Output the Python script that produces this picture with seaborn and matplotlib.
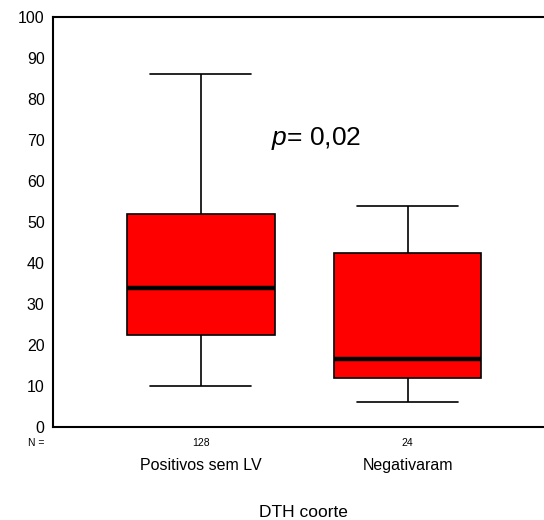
import numpy as np
import pandas as pd
import seaborn as sns
import matplotlib
matplotlib.use("Agg")
import matplotlib.pyplot as plt
from matplotlib.transforms import blended_transform_factory

# ---- data (five-number summaries) ----
groups = ["Positivos sem LV", "Negativaram"]
n_labels = ["128", "24"]
pos_sem_lv = [10, 22.5, 34, 52, 86]      # min, Q1, median, Q3, max
negativaram = [6, 12, 16.5, 42.5, 54]
yticks = list(range(0, 101, 10))
p_text = "= 0,02"
xlabel = "DTH coorte"

sns.set_theme(style="white")
plt.rcParams['font.family'] = ['Liberation Sans', 'DejaVu Sans']
plt.rcParams['mathtext.fontset'] = 'custom'
plt.rcParams['mathtext.it'] = 'Liberation Sans:italic'
plt.rcParams['mathtext.rm'] = 'Liberation Sans'

df = pd.DataFrame({
    "grupo": [groups[0]] * len(pos_sem_lv) + [groups[1]] * len(negativaram),
    "valor": pos_sem_lv + negativaram,
})

fig = plt.figure(figsize=(5.44, 5.2), dpi=100)
ax = fig.add_axes([53 / 544, 1 - 427 / 520, 1 - 53 / 544, (427 - 17) / 520])

sns.boxplot(data=df, x="grupo", y="valor", order=groups, color="#ff0000",
            saturation=1, width=0.715, whis=np.inf, linecolor="black",
            linewidth=1.2, ax=ax,
            medianprops=dict(linewidth=3.2, color="black"),
            capwidths=0.49)

ax.set_xlim(-0.715, 1.66)
ax.set_ylim(0, 100)
ax.set_yticks(yticks)
ax.set_yticklabels([str(t) for t in yticks], fontsize=11.5)
ax.set_xticks(range(len(groups)))
ax.set_xticklabels(groups, fontsize=11.5)
ax.tick_params(axis="x", direction="out", length=3, width=3, pad=19, colors="black")
ax.tick_params(axis="y", direction="out", length=3, width=3, pad=3, colors="black")
for lab in ax.get_xticklabels() + ax.get_yticklabels():
    lab.set_color("black")
ax.set_xlabel(xlabel, fontsize=12.5, color="black")
ax.xaxis.set_label_coords((303 - 53) / (544 - 53), -78 / 410)
ax.set_ylabel("")

for side in ["left", "bottom", "top"]:
    ax.spines[side].set_visible(True)
    ax.spines[side].set_color("black")
    ax.spines[side].set_linewidth(1.5)
ax.spines["right"].set_visible(False)

trans = blended_transform_factory(ax.transData, ax.transAxes)
for i, n in enumerate(n_labels):
    ax.text(i, -0.038, n, transform=trans, ha="center", va="center", fontsize=7.5, color="black")
ax.text(-0.035, -0.038, "N =", transform=ax.transAxes, ha="center", va="center",
        fontsize=7.5, color="black")

ax.text(0.34, 70.3, r"$\it{p}$" + p_text, transform=ax.transData, ha="left", va="center",
        fontsize=19, color="black")

fig.savefig("out.png", dpi=100)
